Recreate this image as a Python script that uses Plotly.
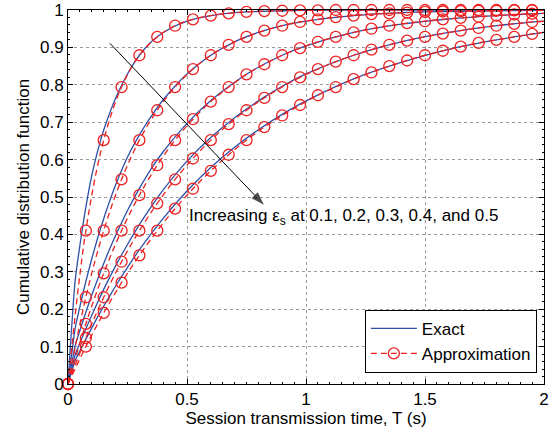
import plotly.graph_objects as go

# Approximation (markers every 0.075 s, line extends to 2 s)
T_marker = [round(0.075 * i, 3) for i in range(27)]
approx_1 = [0, 0.410, 0.652, 0.794, 0.879, 0.928, 0.958, 0.975, 0.985, 0.991, 0.995, 0.997, 0.998, 0.999,
            0.999, 1.000, 1.000, 1.000, 1.000, 1.000, 1.000, 1.000, 1.000, 1.000, 1.000, 1.000, 1.000]
approx_2 = [0, 0.232, 0.410, 0.547, 0.652, 0.732, 0.794, 0.842, 0.879, 0.907, 0.928, 0.945, 0.958, 0.968,
            0.975, 0.981, 0.985, 0.989, 0.991, 0.993, 0.995, 0.996, 0.997, 0.998, 0.998, 0.999, 0.999]
approx_3 = [0, 0.161, 0.296, 0.410, 0.505, 0.585, 0.652, 0.708, 0.755, 0.794, 0.828, 0.855, 0.879, 0.898,
            0.915, 0.928, 0.940, 0.950, 0.958, 0.965, 0.970, 0.975, 0.979, 0.982, 0.985, 0.988, 0.990]
approx_4 = [0, 0.123, 0.232, 0.327, 0.410, 0.483, 0.547, 0.603, 0.652, 0.695, 0.732, 0.765, 0.794, 0.820,
            0.842, 0.862, 0.879, 0.894, 0.907, 0.918, 0.928, 0.937, 0.945, 0.952, 0.958, 0.963, 0.968]
approx_5 = [0, 0.100, 0.190, 0.271, 0.344, 0.410, 0.469, 0.522, 0.570, 0.613, 0.652, 0.687, 0.718, 0.746,
            0.772, 0.794, 0.815, 0.833, 0.850, 0.865, 0.879, 0.891, 0.902, 0.912, 0.920, 0.928, 0.936]
approx_end = [1.000, 0.999, 0.991, 0.970, 0.940]   # values at T = 2 s
T_end = 2.0

# Exact curves
T_exact = [0, 0.01, 0.02, 0.03, 0.05, 0.075, 0.1, 0.125, 0.15, 0.175, 0.2, 0.25, 0.3, 0.35, 0.4,
           0.5, 0.6, 0.7, 0.8, 0.9, 1.0, 1.2, 1.4, 1.6, 1.8, 2.0]
exact_1 = [0, 0.102, 0.194, 0.276, 0.371, 0.473, 0.558, 0.624, 0.679, 0.724, 0.764, 0.829, 0.879, 0.915, 0.940,
           0.970, 0.985, 0.993, 0.996, 0.998, 0.999, 1.000, 1.000, 1.000, 1.000, 1.000]
exact_2 = [0, 0.052, 0.102, 0.149, 0.207, 0.274, 0.335, 0.391, 0.442, 0.489, 0.532, 0.607, 0.666, 0.716, 0.760,
           0.829, 0.879, 0.915, 0.940, 0.958, 0.970, 0.985, 0.993, 0.996, 0.998, 0.999]
exact_3 = [0, 0.035, 0.069, 0.102, 0.143, 0.192, 0.238, 0.281, 0.322, 0.361, 0.397, 0.464, 0.523, 0.576, 0.621,
           0.697, 0.758, 0.807, 0.847, 0.879, 0.904, 0.940, 0.962, 0.976, 0.985, 0.991]
exact_4 = [0, 0.027, 0.052, 0.078, 0.110, 0.148, 0.184, 0.219, 0.253, 0.285, 0.316, 0.373, 0.426, 0.474, 0.519,
           0.596, 0.659, 0.712, 0.757, 0.796, 0.829, 0.879, 0.915, 0.940, 0.958, 0.970]
exact_5 = [0, 0.021, 0.042, 0.063, 0.089, 0.120, 0.150, 0.180, 0.208, 0.235, 0.262, 0.312, 0.359, 0.402, 0.443,
           0.516, 0.579, 0.633, 0.680, 0.721, 0.757, 0.816, 0.860, 0.895, 0.920, 0.940]

# Arrow (tail -> tip) and its label
arrow_T = [0.176, 0.823]
arrow_F = [0.911, 0.479]
label_T, label_F = 0.5, 0.447

exact_series = [exact_1, exact_2, exact_3, exact_4, exact_5]
approx_series = [approx_1, approx_2, approx_3, approx_4, approx_5]

BLUE = "#3050A8"
RED = "#EE2020"
FONT = "Liberation Sans, Arial, sans-serif"
FS = 17

fig = go.Figure()

for ys in exact_series:
    fig.add_trace(go.Scatter(x=T_exact, y=ys, mode="lines", line=dict(color=BLUE, width=1.3, shape="spline"),
                             showlegend=False, hoverinfo="skip"))

for ys, ye in zip(approx_series, approx_end):
    fig.add_trace(go.Scatter(x=T_marker + [T_end], y=ys + [ye], mode="lines",
                             line=dict(color=RED, width=1.3, dash="6px,4px", shape="spline"),
                             showlegend=False, hoverinfo="skip"))
    fig.add_trace(go.Scatter(x=T_marker, y=ys, mode="markers", cliponaxis=False,
                             marker=dict(symbol="circle-open", size=11, color=RED, line=dict(width=1.3, color=RED)),
                             showlegend=False, hoverinfo="skip"))

# arrow
fig.add_trace(go.Scatter(x=arrow_T, y=arrow_F, mode="lines+markers", showlegend=False, hoverinfo="skip",
                         line=dict(color="black", width=1),
                         marker=dict(symbol=["circle", "arrow"], size=[0, 14], color="black",
                                     angleref="previous", line=dict(width=0))))

# legend entries
fig.add_trace(go.Scatter(x=[None], y=[None], mode="lines", name="Exact",
                         line=dict(color=BLUE, width=1.3)))
fig.add_trace(go.Scatter(x=[None], y=[None], mode="lines+markers", name="Approximation",
                         line=dict(color=RED, width=1.3, dash="6px,4px"),
                         marker=dict(symbol="circle-open", size=11, color=RED, line=dict(width=1.3, color=RED))))

fig.add_annotation(x=label_T, y=label_F, xref="x", yref="y", xanchor="left", yanchor="middle", showarrow=False,
                   text="Increasing ε<sub>s</sub> at 0.1, 0.2, 0.3, 0.4, and 0.5",
                   font=dict(family=FONT, size=FS, color="black"))

axis_common = dict(showline=True, linecolor="black", linewidth=1, mirror="ticks", ticks="inside",
                   ticklen=5, tickcolor="black", showgrid=True, gridcolor="#999999", griddash="dot",
                   gridwidth=1, zeroline=False, automargin=False,
                   tickfont=dict(family=FONT, size=FS, color="black"))

fig.update_xaxes(range=[0, 2], dtick=0.5, tick0=0,
                 title=dict(text="Session transmission time, T (s)", font=dict(family=FONT, size=FS, color="black"),
                            standoff=3),
                 minor=dict(ticks="inside", ticklen=2, dtick=0.05, tickcolor="black", showgrid=False),
                 **axis_common)
fig.update_yaxes(range=[0, 1], dtick=0.1, tick0=0,
                 title=dict(text="Cumulative distribution function", font=dict(family=FONT, size=FS, color="black"),
                            standoff=6),
                 minor=dict(ticks="inside", ticklen=2, dtick=0.02, tickcolor="black", showgrid=False),
                 **axis_common)

fig.update_layout(width=558, height=434, margin=dict(l=68, r=14, t=10, b=50),
                  paper_bgcolor="white", plot_bgcolor="white",
                  font=dict(family=FONT, size=FS, color="black"),
                  legend=dict(x=0.985, y=0.03, xanchor="right", yanchor="bottom", bgcolor="white",
                              bordercolor="black", borderwidth=1, font=dict(family=FONT, size=17, color="black"),
                              itemwidth=46, tracegroupgap=0))

fig.write_html("out.html", config={"displayModeBar": False, "staticPlot": True},
               post_script="document.body.style.margin='0px';document.body.style.overflow='hidden';")
